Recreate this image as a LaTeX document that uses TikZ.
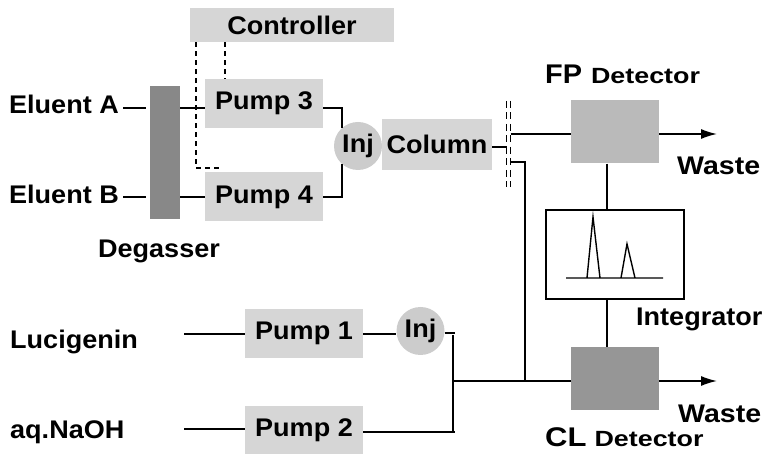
\documentclass[tikz,border=0pt]{standalone}
\usepackage{fontspec}
\setmainfont{Liberation Sans}
\usetikzlibrary{arrows.meta,calc}
\definecolor{pumpgray}{RGB}{214,214,214}
\definecolor{injgray}{RGB}{204,204,204}
\definecolor{fpgray}{RGB}{186,186,186}
\definecolor{clgray}{RGB}{150,150,150}
\definecolor{deggray}{RGB}{136,136,136}
\newcommand\lbl{\fontsize{25.5}{30}\selectfont\bfseries}
\newcommand\stx[1]{\scalebox{1.06}[1]{#1}}
\tikzset{
  box/.style={fill=pumpgray, draw=none, inner sep=0pt, font=\lbl, minimum width=118pt, minimum height=49pt},
  injc/.style={circle, fill=injgray, draw=none, inner sep=0pt, minimum size=48pt, font=\lbl},
  det/.style={draw=none, inner sep=0pt, minimum width=88pt, minimum height=63pt},
  txt/.style={inner sep=0pt, font=\lbl},
  pipe/.style={line width=1.5pt, black},
  ctrl/.style={line width=1.4pt, dash pattern=on 5pt off 4pt},
  split/.style={line width=1.6pt, dash pattern=on 7pt off 4.5pt},
  outarrow/.style={pipe, -{Latex[length=16pt,width=10pt]}}
}
\begin{document}
\begin{tikzpicture}[x=1pt,y=-1pt]
\useasboundingbox (0,0) rectangle (764,454);
% nodes
\node[box, minimum width=204pt, minimum height=34pt] (ctl) at (292,25) {\stx{Controller}};
\node[box] (p3) at (264,103.5) {\stx{Pump 3}};
\node[box] (p4) at (264,197) {\stx{Pump 4}};
\node[fill=deggray, inner sep=0pt, minimum width=30pt, minimum height=133pt] (deg) at (165,152.5) {};
\node[injc] (injA) at (358,146) {\stx{Inj}};
\node[box, minimum width=110pt, minimum height=51pt] (col) at (437,144.5) {\stx{Column}};
\node[det, fill=fpgray] (fp) at (615,132) {};
\node[draw, line width=1.4pt, inner sep=0pt, minimum width=138pt, minimum height=89pt] (integ) at (615,254.5) {};
\node[det, fill=clgray] (cl) at (615,378.5) {};
\node[box] (p1) at (304,333.5) {\stx{Pump 1}};
\node[box, minimum height=48pt] (p2) at (304,430) {\stx{Pump 2}};
\node[injc] (injB) at (420.5,331) {\stx{Inj}};
% text labels
\node[txt, anchor=base east] (eA) at (119,114) {\stx{Eluent A}};
\node[txt, anchor=base east] (eB) at (119,204) {\stx{Eluent B}};
\node[txt, anchor=base] (degl) at (159,258) {\stx{Degasser}};
\node[txt, anchor=base west] (luc) at (10,349) {\stx{Lucigenin}};
\node[txt, anchor=base west] (naoh) at (10,439) {\stx{aq.NaOH}};
\node[txt, anchor=base west] (fpl) at (545,84) {\scalebox{1.07}[1]{\fontsize{27}{30}\selectfont FP}\hspace{9pt}\scalebox{1.22}[1]{\fontsize{22}{26}\selectfont Detector}};
\node[txt, anchor=base west] (cll) at (545,447) {\scalebox{1.15}[1]{\fontsize{27}{30}\selectfont CL}\hspace{8pt}\scalebox{1.22}[1]{\fontsize{22}{26}\selectfont Detector}};
\node[txt, anchor=base west] (w1) at (677,175) {\scalebox{1.12}[1]{Waste}};
\node[txt, anchor=base west] (w2) at (678,423) {\scalebox{1.12}[1]{Waste}};
\node[txt, anchor=base west] (intl) at (636,326) {\stx{Integrator}};
% coordinates
\coordinate (aEnd) at (146,108);
\coordinate (bEnd) at (146,197);
\coordinate (aStart) at (123,108);
\coordinate (bStart) at (123,197);
\coordinate (lucS) at (184,334);
\coordinate (naohS) at (184,429);
\coordinate (spl) at (507,147);
\coordinate (sTop) at (510.5,134);
\coordinate (sBot) at (510.5,162);
\coordinate (dropX) at (525,162);
\coordinate (joinA) at (525,381);
\coordinate (mixX) at (453,381);
\coordinate (w1e) at (717,134);
\coordinate (w2e) at (717,381);
% eluent lines
\draw[pipe] (aStart) -- (aEnd);
\draw[pipe] (bStart) -- (bEnd);
\draw[pipe] (deg.east |- aEnd) -- (p3.west |- aEnd);
\draw[pipe] (deg.east |- bEnd) -- (p4.west |- bEnd);
% pumps to injector
\draw[pipe] (p3.east |- aEnd) -| (injA.132);
\draw[pipe] (p4.east |- bEnd) -| (injA.228);
% controller
\draw[ctrl] (ctl.south -| 196,0) -- (196,168) -- (220,168);
\draw[ctrl] (ctl.south -| 225,0) -- (p3.north -| 225,0);
% column to splitter
\draw[pipe] (col.east |- spl) -- (spl);
\draw[split] (506.5,101) -- (506.5,187);
\draw[split] (510.5,101) -- (510.5,187);
\draw[pipe] (sTop) -- (fp.west |- sTop);
\draw[pipe] (sBot) -- (dropX) -- (joinA);
% detectors
\draw[outarrow] (fp.east |- w1e) -- (w1e);
\draw[outarrow] (cl.east |- w2e) -- (w2e);
\draw[pipe] (fp.south -| 607,0) -- (integ.north -| 607,0);
\draw[pipe] (integ.south -| 607,0) -- (cl.north -| 607,0);
% chromatogram
\draw[line width=1.4pt, line join=miter] (566,278) -- (663,278)
  (587,278) -- (593,217) -- (600,278)
  (621,278) -- (627,244) -- (635,278);
% post-column reaction
\draw[pipe] (lucS) -- (p1.west |- lucS);
\draw[pipe] (naohS) -- (p2.west |- naohS);
\draw[pipe] (p1.east |- lucS) -- (injB.west |- lucS);
\draw[pipe] (injB.east |- 0,333) -- (455,333);
\draw[pipe] (453,335) -- (453,433);
\draw[pipe] (p2.east |- 0,432) -- (455,432);
\draw[pipe] (mixX) -- (cl.west |- mixX);
\end{tikzpicture}
\end{document}
